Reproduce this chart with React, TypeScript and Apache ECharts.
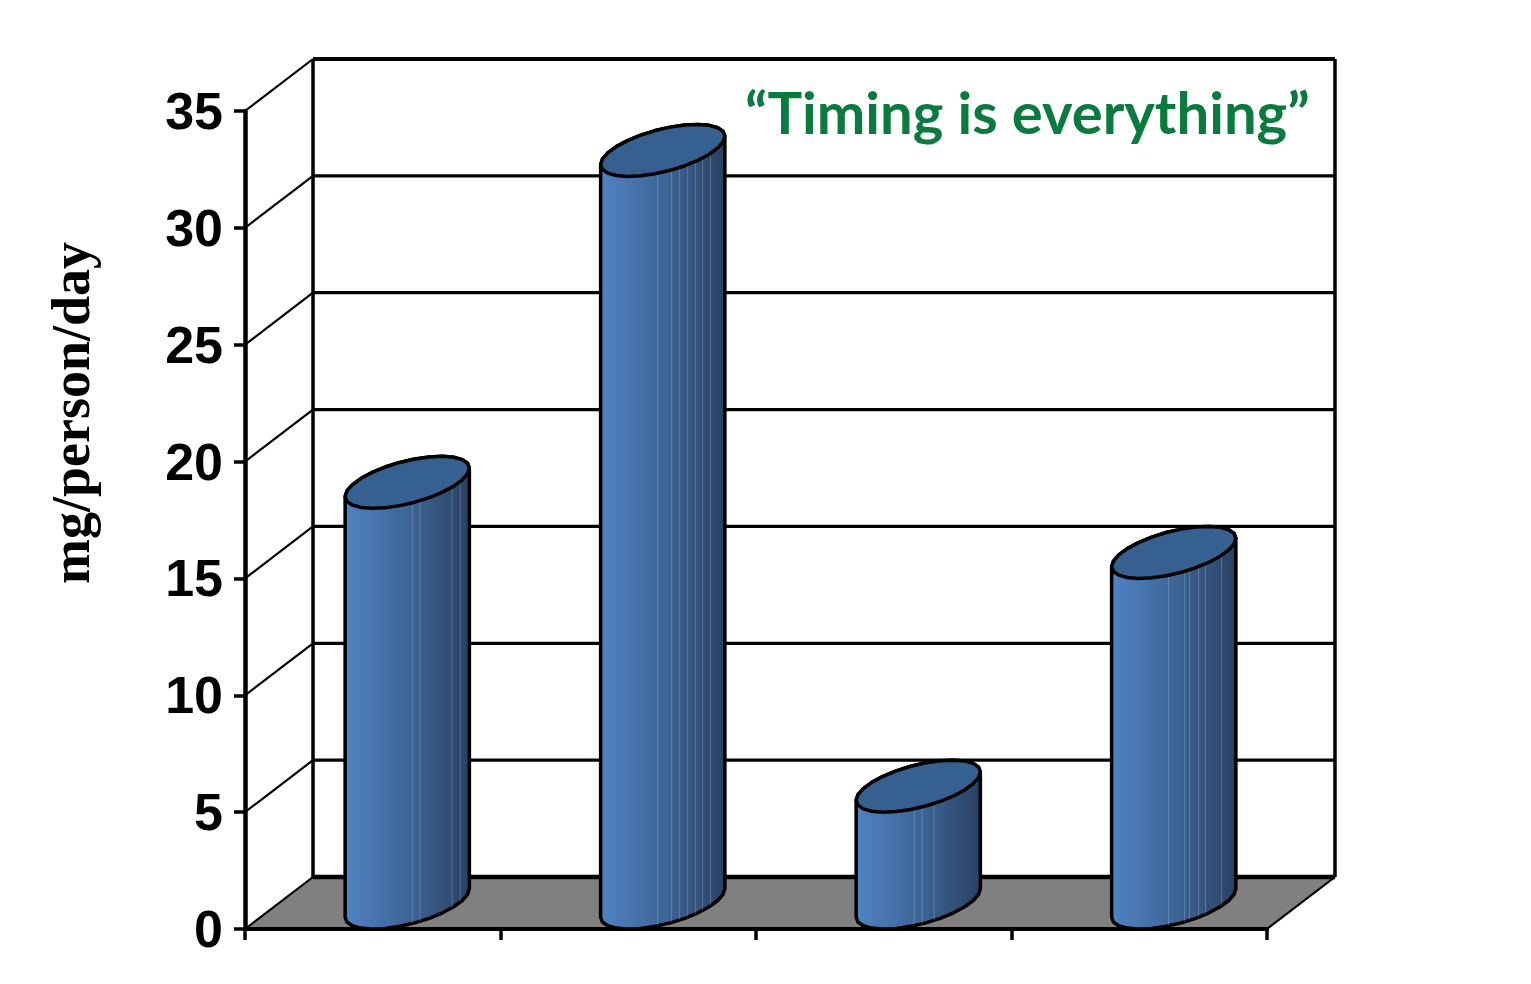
import React, { useEffect, useRef } from "react";
import * as echarts from "echarts";

const categories = ["Group 1", "Group 2", "Group 3", "Group 4"];
const values = [18, 32.2, 5, 15];
const yTicks = [0, 5, 10, 15, 20, 25, 30, 35];
const seams = [
  [67, 75, 107, 115],
  [57, 71, 79, 87, 95, 102, 110],
  [58, 66, 78],
  [57, 73, 78, 87, 94, 110],
];

const DEPTH_X = 68;
const DEPTH_Y = 52;
const SEGMENTS = 13;

function ellipsePoints(cx: number, cy: number, rx: number, from: number, to: number, n: number) {
  const pts: number[][] = [];
  for (let i = 0; i <= n; i++) {
    const t = from + ((to - from) * i) / n;
    pts.push([
      cx + rx * Math.cos(t) + (DEPTH_X / 2) * Math.sin(t),
      cy - (DEPTH_Y / 2) * Math.sin(t),
    ]);
  }
  return pts;
}

function arcY(arc: number[][], x: number) {
  for (let i = 0; i < arc.length - 1; i++) {
    const a = arc[i];
    const b = arc[i + 1];
    if (x >= a[0] && x <= b[0]) {
      return a[1] + ((b[1] - a[1]) * (x - a[0])) / (b[0] - a[0] || 1);
    }
  }
  return arc[0][1];
}

const renderWall = (params: any, api: any) => {
  const cs = params.coordSys;
  const v = api.value(1);
  const y = api.coord([0, v])[1];
  const x0 = cs.x;
  const x1 = cs.x + cs.width;
  const children: any[] = [];
  const lineStyle = { stroke: "#000", lineWidth: v === 35 ? 4 : v === 0 ? 4.5 : 3.2 };
  if (v === 0) {
    children.push({
      type: "polygon",
      shape: {
        points: [
          [x0, y],
          [x0 + DEPTH_X, y - DEPTH_Y],
          [x1 + DEPTH_X, y - DEPTH_Y],
          [x1, y],
        ],
      },
      style: { fill: "#808080" },
    });
    children.push({
      type: "line",
      shape: { x1: x1, y1: y, x2: x1 + DEPTH_X, y2: y - DEPTH_Y },
      style: { stroke: "#000", lineWidth: 2.2 },
    });
  }
  if (v === 35) {
    const yBottom = api.coord([0, 0])[1] - DEPTH_Y;
    children.push({
      type: "line",
      shape: { x1: x0 + DEPTH_X, y1: y - DEPTH_Y, x2: x0 + DEPTH_X, y2: yBottom },
      style: { stroke: "#000", lineWidth: 3.5 },
    });
    children.push({
      type: "line",
      shape: { x1: x1 + DEPTH_X, y1: y - DEPTH_Y, x2: x1 + DEPTH_X, y2: yBottom },
      style: { stroke: "#000", lineWidth: 3.5 },
    });
  }
  children.push({
    type: "line",
    shape: { x1: x0, y1: y, x2: x0 + DEPTH_X, y2: y - DEPTH_Y },
    style: { stroke: "#000", lineWidth: 2.2 },
  });
  children.push({
    type: "line",
    shape: { x1: x0 + DEPTH_X, y1: y - DEPTH_Y, x2: x1 + DEPTH_X, y2: y - DEPTH_Y },
    style: lineStyle,
  });
  return { type: "group", children };
};

const renderCylinder = (params: any, api: any) => {
  const idx = api.value(0);
  const val = api.value(1);
  const top = api.coord([idx, val]);
  const base = api.coord([idx, 0]);
  const band = api.size([1, 0])[0];
  const rx = band * 0.2035;
  const cx = base[0] + DEPTH_X / 2 + 0.5;
  const cyBase = base[1] - DEPTH_Y / 2;
  const cyTop = top[1] - DEPTH_Y / 2;
  const t0 = Math.atan2(DEPTH_X / 2, rx);
  const left = Math.PI + t0;
  const right = 2 * Math.PI + t0;
  const baseFront = ellipsePoints(cx, cyBase, rx, left, right, SEGMENTS);
  const topFront = ellipsePoints(cx, cyTop, rx, left, right, SEGMENTS);
  const topBack = ellipsePoints(cx, cyTop, rx, t0, Math.PI + t0, SEGMENTS);
  const topRing = ellipsePoints(cx, cyTop, rx, t0, 2 * Math.PI + t0, SEGMENTS * 2);
  const body = [...baseFront, ...topBack];
  const leftEdge = baseFront[0][0];
  const seamLines = (seams[idx] || []).map((off) => {
    const x = leftEdge + off;
    return {
      type: "line",
      shape: { x1: x, y1: arcY(topFront, x), x2: x, y2: arcY(baseFront, x) },
      style: { stroke: "rgba(200,215,235,0.28)", lineWidth: 1 },
    };
  });
  return {
    type: "group",
    children: [
      {
        type: "polygon",
        shape: { points: body },
        style: {
          fill: new echarts.graphic.LinearGradient(0, 0, 1, 0, [
            { offset: 0, color: "#5082C2" },
            { offset: 0.5, color: "#3D6698" },
            { offset: 1, color: "#2A4162" },
          ]),
          stroke: "#000",
          lineWidth: 3.5,
          lineJoin: "round",
        },
      },
      ...seamLines,
      {
        type: "polygon",
        shape: { points: topRing },
        style: { fill: "#35608F", stroke: "#000", lineWidth: 3.5, lineJoin: "round" },
      },
    ],
  };
};

export default function App() {
  const ref = useRef<HTMLDivElement>(null);
  useEffect(() => {
    const chart = echarts.init(ref.current!, null, { renderer: "svg" });
    chart.setOption({
      animation: false,
      backgroundColor: "#fff",
      grid: { left: 245, right: 264, top: 111, bottom: 55 },
      title: {
        text: "“Timing is everything”",
        left: 745,
        top: 82,
        padding: 0,
        textStyle: {
          fontFamily: "Lato, 'Open Sans', sans-serif",
          fontWeight: "bold",
          fontSize: 58,
          color: "#0B7A3F",
        },
      },
      xAxis: {
        type: "category",
        data: categories,
        z: 3,
        axisLine: { lineStyle: { color: "#000", width: 4 } },
        axisTick: {
          show: true,
          interval: 0,
          alignWithLabel: false,
          length: 11,
          lineStyle: { color: "#000", width: 3.5 },
        },
        axisLabel: { show: true, interval: 0, color: "transparent", fontSize: 1, formatter: () => "" },
        splitLine: { show: false },
      },
      yAxis: {
        type: "value",
        min: 0,
        max: 35,
        interval: 5,
        z: 3,
        name: "mg/person/day",
        nameLocation: "middle",
        nameRotate: 90,
        nameGap: 147,
        nameTextStyle: {
          fontFamily: "'Liberation Serif', serif",
          fontWeight: "bold",
          fontSize: 54,
          color: "#000",
          padding: [0, 0, 0, 214],
        },
        axisLine: { show: true, lineStyle: { color: "#000", width: 4.5 } },
        axisTick: { show: true, length: 11, lineStyle: { color: "#000", width: 3.5 } },
        axisLabel: {
          margin: 22,
          fontFamily: "'Liberation Sans', sans-serif",
          fontWeight: "bold",
          fontSize: 52,
          color: "#000",
        },
        splitLine: { show: false },
      },
      series: [
        {
          type: "custom",
          name: "walls",
          z: 1,
          silent: true,
          clip: false,
          renderItem: renderWall,
          data: yTicks.map((v) => [0, v]),
          encode: { x: 0, y: 1 },
        },
        {
          type: "custom",
          name: "mg/person/day",
          z: 4,
          silent: true,
          clip: false,
          renderItem: renderCylinder,
          data: values.map((v, i) => [i, v]),
          encode: { x: 0, y: 1 },
        },
      ],
    });
    return () => chart.dispose();
  }, []);
  return (
    <div
      ref={ref}
      style={{ position: "fixed", left: 0, top: 0, width: 1531, height: 984 }}
    />
  );
}
